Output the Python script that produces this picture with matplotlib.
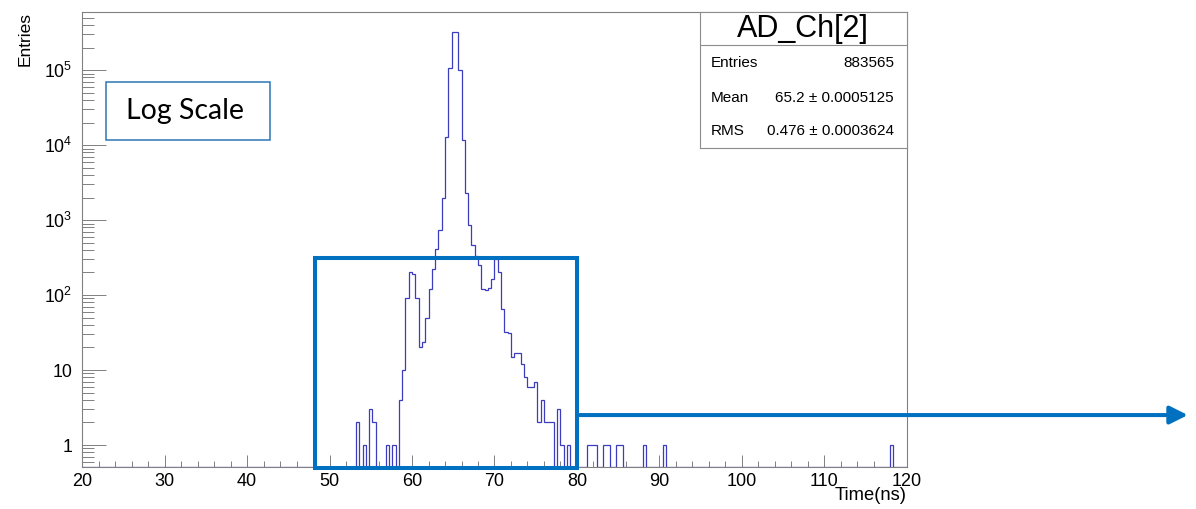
import numpy as np
import matplotlib
matplotlib.use('Agg')
import matplotlib.pyplot as plt
from matplotlib.patches import Rectangle, ArrowStyle
from matplotlib.ticker import FixedLocator, LogLocator, MultipleLocator, FuncFormatter, NullFormatter

plt.rcParams['font.family'] = ['Liberation Sans', 'DejaVu Sans']
plt.rcParams['mathtext.fontset'] = 'custom'
plt.rcParams['mathtext.rm'] = 'Liberation Sans'
plt.rcParams['mathtext.it'] = 'Liberation Sans:italic'

## Histogram definition: AD_Ch[2] timing, 250 bins of 0.4 ns
t_low, t_high, n_bins = 20.0, 120.0, 250

# lower edge (ns) of every non-empty bin and its content
bin_start = [53.2, 54.0, 54.8, 55.2, 56.8, 57.6, 58.4, 58.8, 59.2, 59.6,
             60.0, 60.4, 60.8, 61.2, 61.6, 62.0, 62.4, 62.8, 63.2, 63.6,
             64.0, 64.4, 64.8, 65.2, 65.6, 66.0, 66.4, 66.8, 67.2, 67.6,
             68.0, 68.4, 68.8, 69.2, 69.6, 70.0, 70.4, 70.8, 71.2, 71.6,
             72.0, 72.4, 72.8, 73.2, 73.6, 74.0, 74.4, 74.8, 75.2, 75.6,
             76.0, 76.4, 76.8, 77.6, 78.0, 78.8, 81.2, 81.6, 82.0, 83.2,
             83.6, 84.8, 85.2, 88.0, 90.4, 118.0]
bin_count = [2, 1, 3, 2, 1, 1, 4, 10, 90, 200,
             190, 90, 20, 24, 50, 120, 220, 417, 735, 1950,
             12900, 107000, 318000, 318000, 100000, 11700, 2270, 860, 464, 330,
             251, 120, 118, 126, 166, 300, 200, 66, 32, 31,
             15, 17, 17, 12, 8, 6, 6, 7, 2, 4,
             2, 2, 2, 3, 1, 1, 1, 1, 1, 1,
             1, 1, 1, 1, 1, 1]

stats_title = 'AD_Ch[2]'
stats_names = ['Entries', 'Mean', 'RMS']
stats_values = ['883565', '65.2 \u00b1 0.0005125', '0.476 \u00b1 0.0003624']

y_min, y_max = 0.514, 5.9e5

## Fill the histogram
edges = np.linspace(t_low, t_high, n_bins + 1)
width = (t_high - t_low) / n_bins
counts = np.zeros(n_bins)
idx = np.round((np.array(bin_start) - t_low) / width).astype(int)
counts[idx] = bin_count

## Plotting
fig = plt.figure(figsize=(11.96, 5.09), dpi=100)
ax = fig.add_axes([0.0688, 0.0831, 0.6893, 0.8927])

# empty bins sit on the bottom of the frame (log scale)
ax.stairs(np.where(counts > 0, counts, y_min), edges, baseline=y_min,
          color='#3c3cbf', lw=0.9, zorder=3)

ax.set_yscale('log')
ax.set_xlim(t_low, t_high)
ax.set_ylim(y_min, y_max)

grey = '#808080'
for s in ax.spines.values():
    s.set_color(grey)
    s.set_linewidth(0.8)

ax.xaxis.set_major_locator(MultipleLocator(10))
ax.xaxis.set_minor_locator(MultipleLocator(2))
ax.yaxis.set_major_locator(FixedLocator([1, 10, 1e2, 1e3, 1e4, 1e5]))
ax.yaxis.set_minor_locator(LogLocator(base=10, subs=np.arange(2, 10)))
ax.yaxis.set_minor_formatter(NullFormatter())


def ylab(v, pos):
    n = int(round(np.log10(v)))
    if n == 0:
        return '1'
    if n == 1:
        return '10'
    return r'$10^{%d}$' % n


ax.yaxis.set_major_formatter(FuncFormatter(ylab))

ax.tick_params(axis='x', which='major', direction='in', length=9, width=0.7,
               color=grey, labelsize=13, pad=4.5)
ax.tick_params(axis='x', which='minor', direction='in', length=4, width=0.7, color=grey)
ax.tick_params(axis='y', which='major', direction='in', length=17, width=0.7,
               color=grey, labelsize=12.8, pad=7)
ax.tick_params(axis='y', which='minor', direction='in', length=8.6, width=0.7, color=grey)

ax.set_xlabel('Time(ns)', fontsize=13.2, loc='right')
ax.xaxis.set_label_coords(1.0, -0.044)
ax.set_ylabel('Entries', fontsize=12.5, loc='top')
ax.yaxis.set_label_coords(-0.0604, 1.0)

## Stats box
sb = fig.add_axes([0.5853, 0.7086, 0.1728, 0.2672])
sb.set_xticks([])
sb.set_yticks([])
sb.set_xlim(0, 1)
sb.set_ylim(0, 1)
for s in sb.spines.values():
    s.set_color('#8c8c8c')
    s.set_linewidth(0.8)
sb.axhline(0.7596, color='#8c8c8c', lw=0.8)
sb.text(0.5, 0.875, stats_title, ha='center', va='center', fontsize=22)
for yy, name, val in zip([0.627, 0.370, 0.127], stats_names, stats_values):
    sb.text(0.052, yy, name, ha='left', va='center', fontsize=11)
    sb.text(0.939, yy, val, ha='right', va='center', fontsize=11)

## Annotations
fig.patches.append(Rectangle((0.0886, 0.7256), 0.1371, 0.1134, transform=fig.transFigure,
                             fill=False, edgecolor='#2e75b6', lw=1.1))
fig.text(0.1054, 0.7819, 'Log Scale', fontsize=20.5, family=['Lato', 'DejaVu Sans'],
         ha='left', va='center')

zoom_box = Rectangle((48.2, 0.493), 80 - 48.2, 311 - 0.493, fill=False,
                     edgecolor='#0070c0', lw=2.9, joinstyle='miter', clip_on=False, zorder=5)
ax.add_patch(zoom_box)
ax.annotate('', xy=(154.1, 2.51), xytext=(80, 2.51), annotation_clip=False,
            arrowprops=dict(arrowstyle=ArrowStyle('-|>', head_length=1.0, head_width=0.5),
                            mutation_scale=10.8, color='#0070c0', lw=2.9,
                            shrinkA=0, shrinkB=0), zorder=5)

fig.savefig('out.png', dpi=100, facecolor='white')
plt.close('all')
